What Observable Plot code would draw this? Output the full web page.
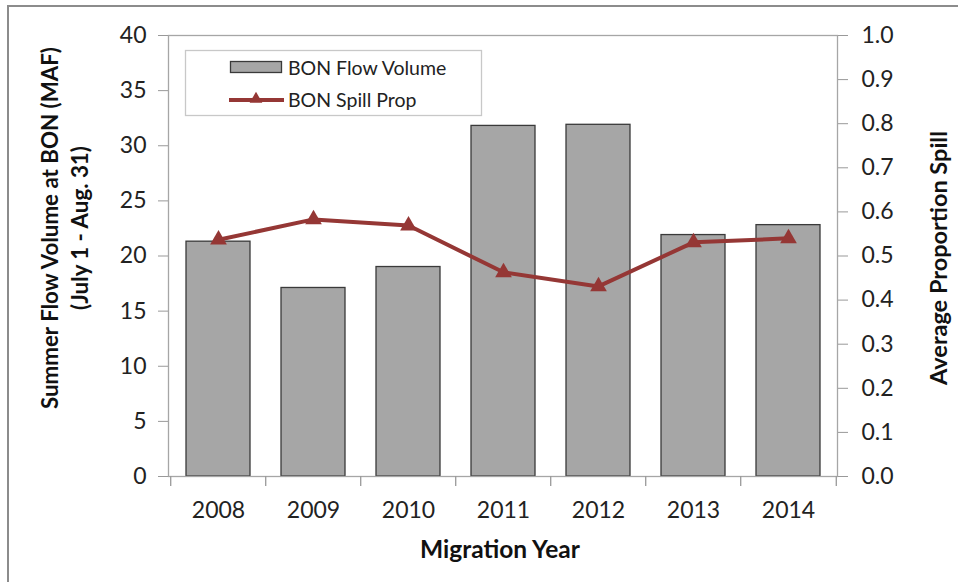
<!DOCTYPE html>
<html><head><meta charset="utf-8">
<script src="https://cdn.jsdelivr.net/npm/d3@7"></script>
<script src="https://cdn.jsdelivr.net/npm/@observablehq/plot@0.6"></script>
<style>
body{margin:0;background:#fff;}
#wrap{position:relative;width:958px;height:582px;overflow:hidden;font-family:Lato,sans-serif;}
#border{position:absolute;left:7px;top:5px;right:-10px;bottom:-10px;border-top:2px solid #8c8c8c;border-left:2px solid #8c8c8c;}
#wrap svg{position:absolute;left:0;top:0;}
</style></head><body><div id="wrap"><div id="border"></div></div>
<script>
const years = ["2008","2009","2010","2011","2012","2013","2014"];
const flowVolume = [21.3, 17.1, 19.0, 31.8, 31.9, 21.9, 22.8];
const spillProp = [0.537, 0.583, 0.569, 0.463, 0.431, 0.531, 0.540];
const leftTicks = [0,5,10,15,20,25,30,35,40];
const rightTicks = [0,0.1,0.2,0.3,0.4,0.5,0.6,0.7,0.8,0.9,1.0];
const seriesNames = ["BON Flow Volume","BON Spill Prop"];
const leftTitle = ["Summer Flow Volume at BON (MAF)","(July 1 - Aug. 31)"];
const rightTitle = "Average Proportion Spill";
const xTitle = "Migration Year";

const barFill = "#a6a6a6", barStroke = "#3a3a3a", lineColor = "#953735";
const W = 958, H = 582, mL = 168, mR = 121, mT = 35, mB = 106;
const yMax = 40, ratio = yMax / 1.0;
const step = (W - mL - mR) / years.length;
const tickLen = 10 * yMax / (H - mT - mB);

const table = years.map((y, i) => ({year: y, flow: flowVolume[i], spill: spillProp[i] * ratio}));

const chart = Plot.plot({
  width: W, height: H,
  marginLeft: mL, marginRight: mR, marginTop: mT, marginBottom: mB,
  style: {fontFamily: "Lato, sans-serif", fontSize: "23px", color: "#222", background: "transparent", overflow: "visible"},
  x: {type: "band", domain: years, paddingInner: 0.33, paddingOuter: 0.165, align: 0.5},
  y: {domain: [0, yMax]},
  marks: [
    Plot.barY(table, {x: "year", y: "flow", fill: barFill, stroke: barStroke, strokeWidth: 1.3}),
    Plot.frame({stroke: "#a6a6a6", strokeWidth: 1.3}),
    Plot.axisY({ticks: leftTicks, tickSize: 10, tickPadding: 12, stroke: "#999", fill: "#222", label: null, fontSize: 23}),
    Plot.axisY({anchor: "right", ticks: rightTicks.map(v => v * ratio), tickFormat: d => (d / ratio).toFixed(1), tickSize: 10, tickPadding: 14, stroke: "#999", fill: "#222", label: null, fontSize: 23}),
    Plot.axisX({tickSize: 0, tickPadding: 25, label: null, fill: "#222", fontSize: 23}),
    Plot.ruleX(years, {x: d => d, y1: 0, y2: -tickLen, dx: -step / 2, stroke: "#999", strokeWidth: 1.3}),
    Plot.ruleX(years.slice(-1), {x: d => d, y1: 0, y2: -tickLen, dx: step / 2, stroke: "#999", strokeWidth: 1.3}),
    Plot.line(table, {x: "year", y: "spill", stroke: lineColor, strokeWidth: 4}),
    Plot.dot(table, {x: "year", y: "spill", symbol: "triangle", r: 6.2, fill: lineColor, stroke: "none"})
  ]
});
document.getElementById("wrap").appendChild(chart);

const svg = d3.select(chart);
// axis titles
const t = svg.append("g").attr("font-family", "Lato, sans-serif").attr("font-weight", "bold").attr("fill", "#111").attr("text-anchor", "middle");
t.append("text").attr("transform", "translate(49,228) rotate(-90)").attr("dominant-baseline", "central").attr("font-size", 22.3).text(leftTitle[0]);
t.append("text").attr("transform", "translate(79,228) rotate(-90)").attr("dominant-baseline", "central").attr("font-size", 22.3).text(leftTitle[1]);
t.append("text").attr("transform", "translate(938,258) rotate(-90)").attr("dominant-baseline", "central").attr("font-size", 23.5).text(rightTitle);
t.append("text").attr("x", 500).attr("y", 548).attr("dominant-baseline", "central").attr("font-size", 24.5).text(xTitle);

// legend
const lg = svg.append("g").attr("font-family", "Lato, sans-serif").attr("font-size", 19.5).attr("fill", "#222").attr("text-anchor", "start");
lg.append("rect").attr("x", 185.5).attr("y", 50.5).attr("width", 296).attr("height", 65).attr("fill", "#fff").attr("stroke", "#c8c8c8").attr("stroke-width", 1.3);
lg.append("rect").attr("x", 230.5).attr("y", 61.5).attr("width", 51).attr("height", 11).attr("fill", barFill).attr("stroke", barStroke).attr("stroke-width", 1.3);
lg.append("text").attr("x", 288).attr("y", 67).attr("dominant-baseline", "central").text(seriesNames[0]);
lg.append("line").attr("x1", 229).attr("x2", 284).attr("y1", 100).attr("y2", 100).attr("stroke", lineColor).attr("stroke-width", 4);
lg.append("path").attr("transform", "translate(256,99)").attr("d", d3.symbol(d3.symbolTriangle, 70)()).attr("fill", lineColor);
lg.append("text").attr("x", 288).attr("y", 99).attr("dominant-baseline", "central").text(seriesNames[1]);
</script></body></html>
